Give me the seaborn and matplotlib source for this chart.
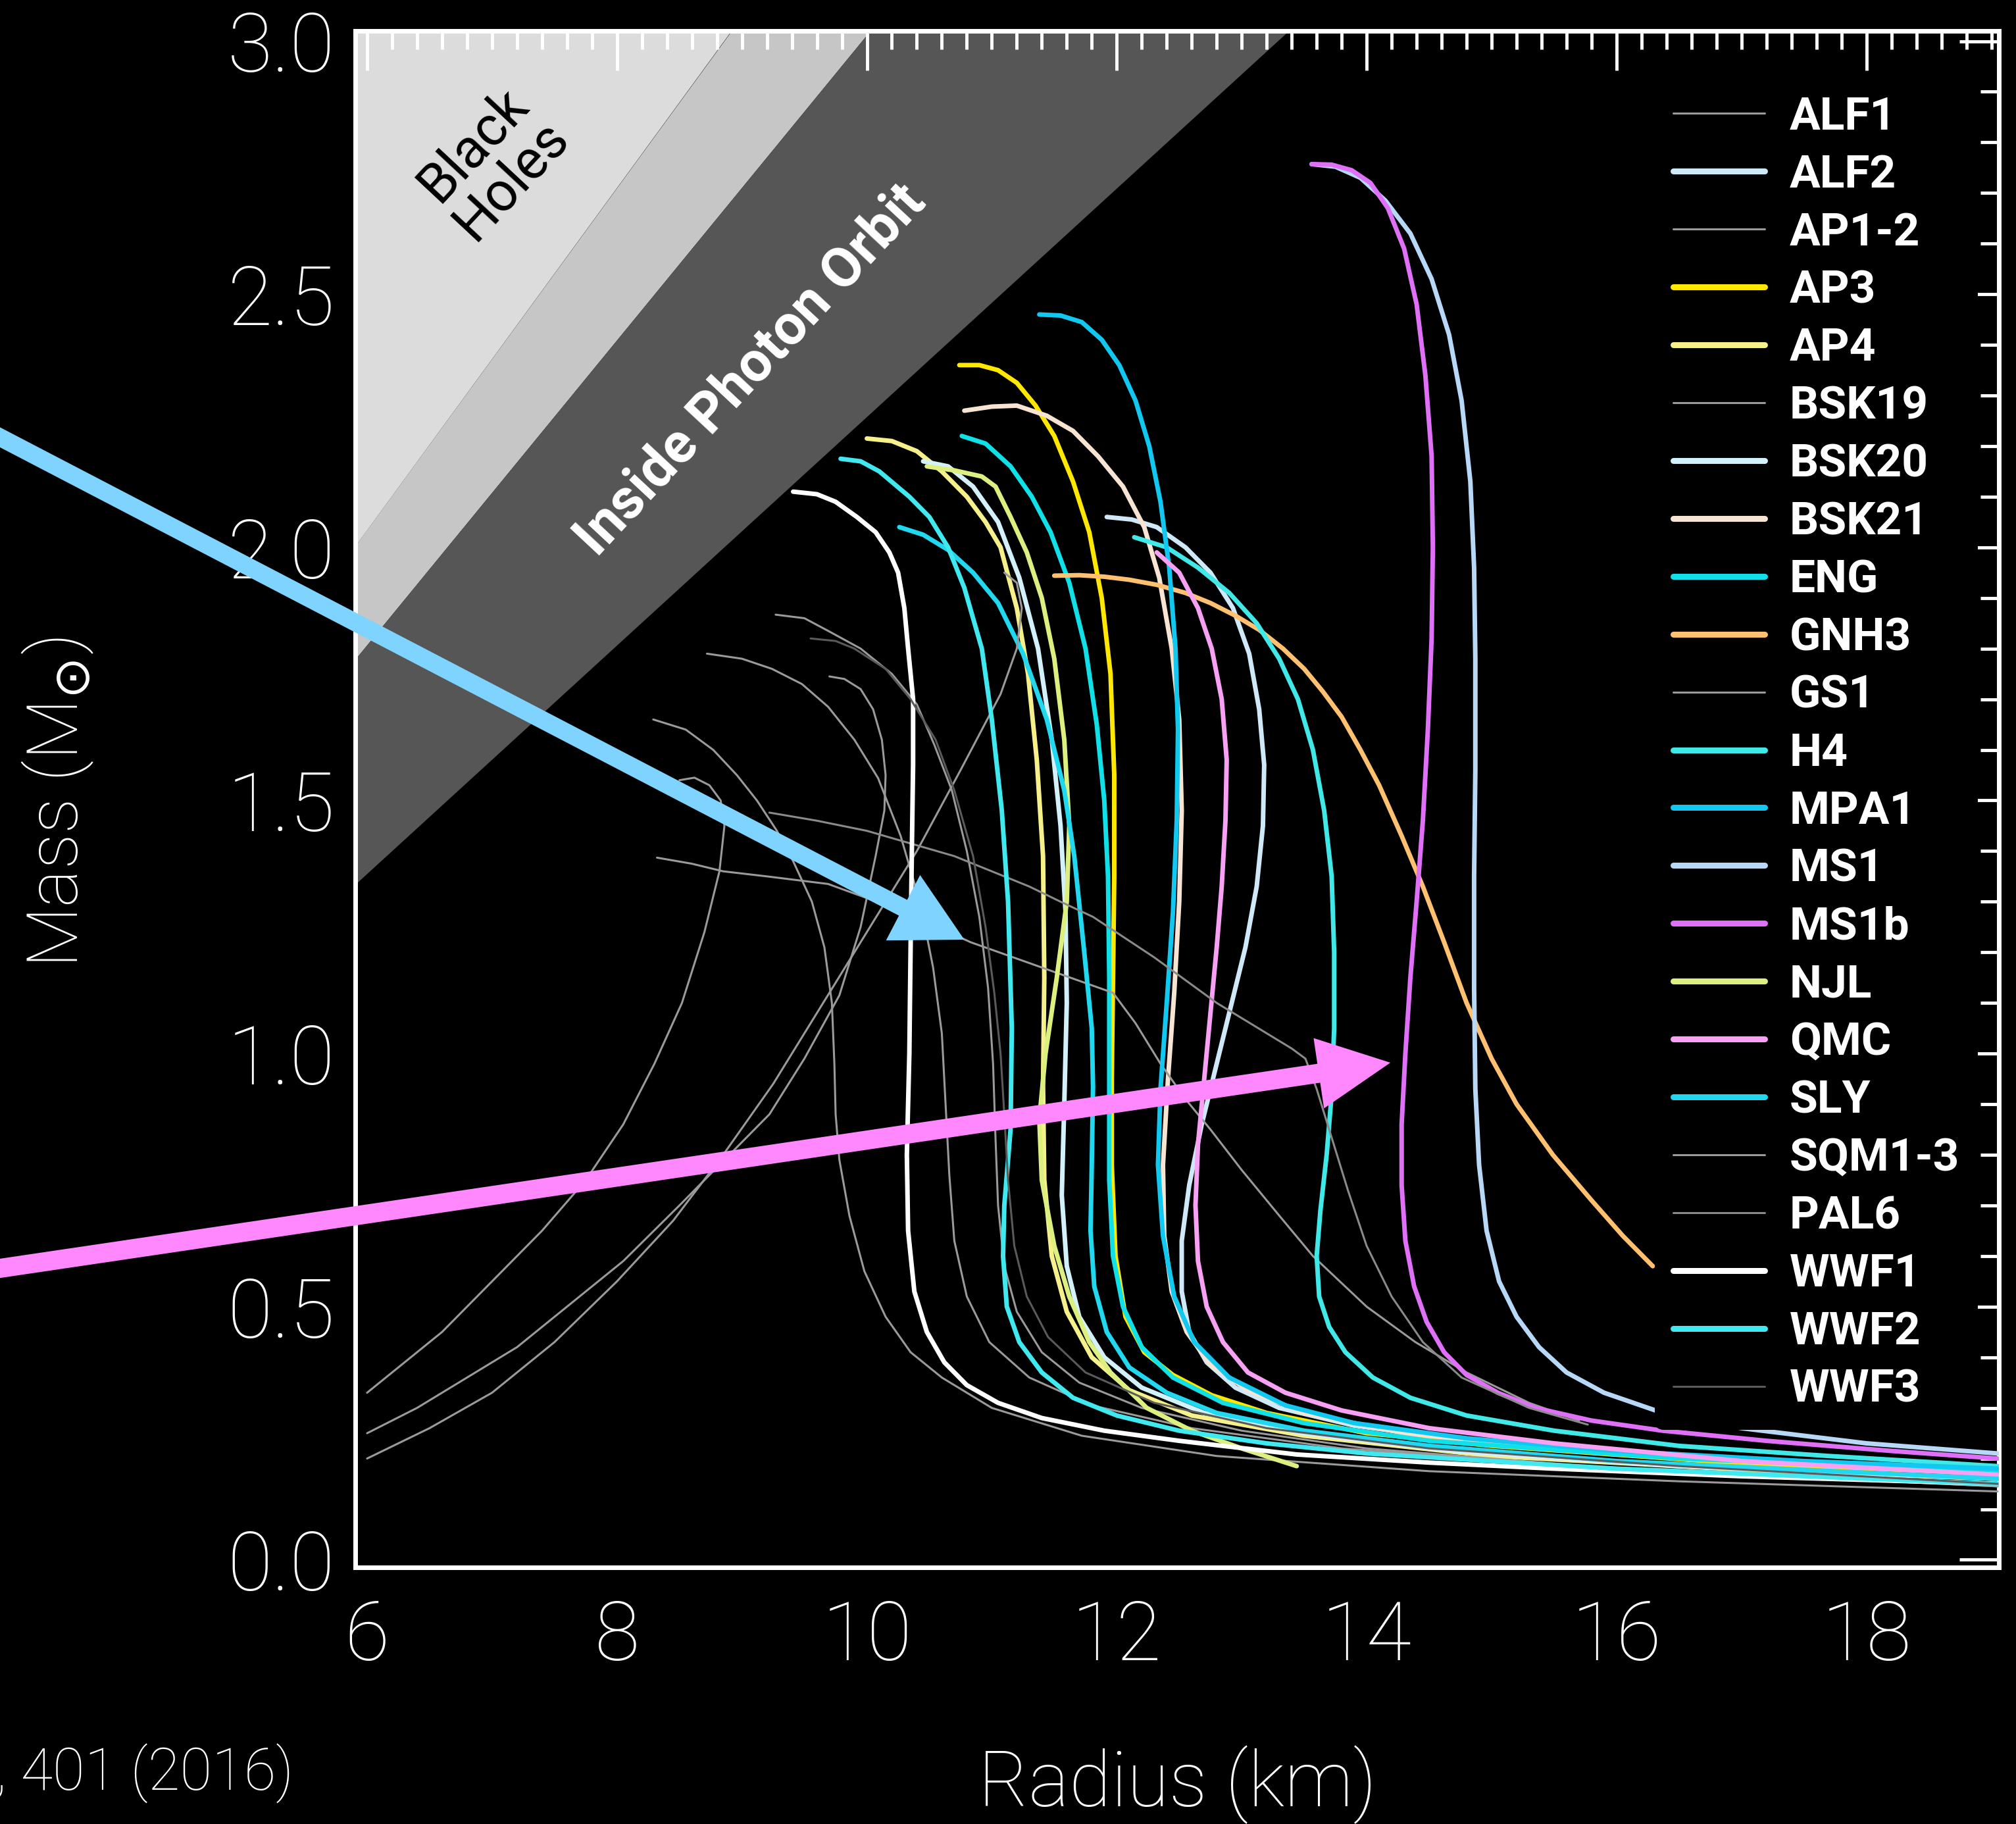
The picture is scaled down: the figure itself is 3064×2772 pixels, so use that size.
import numpy as np
import pandas as pd
import matplotlib.pyplot as plt
import seaborn as sns
from matplotlib.ticker import MultipleLocator, FormatStrFormatter

sns.set_style("dark")
plt.rcParams['font.family'] = ['Roboto', 'DejaVu Sans']

# mass-radius curves (R in km, M in solar masses)
alf1_r = [8.29, 8.55, 8.77, 8.96, 9.12, 9.28, 9.41, 9.56, 9.66, 9.72, 9.74, 9.75, 9.78, 9.86, 9.98, 10.15, 10.35, 10.6, 11.0, 11.72, 12.8, 14.5, 16.5, 19.05]
alf1_m = [1.66, 1.64, 1.60, 1.55, 1.50, 1.44, 1.38, 1.3, 1.21, 1.1, 0.98, 0.88, 0.79, 0.68, 0.57, 0.48, 0.41, 0.36, 0.3, 0.245, 0.205, 0.175, 0.155, 0.135]
alf2_r = [11.92, 12.12, 12.32, 12.55, 12.75, 12.93, 13.06, 13.14, 13.18, 13.17, 13.12, 13.03, 12.92, 12.8, 12.68, 12.58, 12.52, 12.52, 12.58, 12.72, 12.95, 13.3, 13.9, 14.8, 16.0, 17.5, 19.05]
alf2_m = [2.06, 2.055, 2.04, 2.0, 1.95, 1.88, 1.79, 1.68, 1.57, 1.45, 1.33, 1.21, 1.1, 0.98, 0.86, 0.74, 0.63, 0.53, 0.45, 0.39, 0.34, 0.3, 0.265, 0.235, 0.21, 0.19, 0.17]
ap12_r = [8.72, 9.0, 9.24, 9.48, 9.69, 9.9, 10.09, 10.27, 10.43, 10.53, 10.6, 10.63, 10.66, 10.7, 10.8, 10.98, 11.3, 11.8, 12.6, 13.8, 16.0, 19.05]
ap12_m = [1.79, 1.78, 1.76, 1.73, 1.685, 1.62, 1.544, 1.43, 1.295, 1.17, 1.04, 0.9, 0.76, 0.63, 0.52, 0.43, 0.36, 0.305, 0.26, 0.22, 0.18, 0.145]
ap3_r = [10.74, 10.9, 11.05, 11.2, 11.35, 11.5, 11.65, 11.78, 11.88, 11.95, 11.98, 11.98, 11.97, 11.96, 11.96, 11.99, 12.07, 12.22, 12.45, 12.76, 13.2, 14.0, 15.0, 17.0, 19.05]
ap3_m = [2.36, 2.36, 2.35, 2.325, 2.28, 2.22, 2.13, 2.03, 1.9, 1.75, 1.55, 1.35, 1.15, 0.95, 0.78, 0.6, 0.48, 0.41, 0.365, 0.325, 0.29, 0.25, 0.225, 0.19, 0.17]
ap4_r = [10.0, 10.2, 10.4, 10.6, 10.8, 10.95, 11.07, 11.2, 11.29, 11.36, 11.41, 11.42, 11.41, 11.42, 11.48, 11.6, 11.8, 12.1, 12.6, 13.5, 15.0, 17.0, 19.05]
ap4_m = [2.215, 2.21, 2.19, 2.15, 2.1, 2.05, 2.0, 1.88, 1.75, 1.58, 1.39, 1.15, 0.935, 0.75, 0.6, 0.49, 0.4, 0.335, 0.285, 0.245, 0.205, 0.178, 0.16]
bsk19_r = [9.27, 9.5, 9.69, 9.95, 10.2, 10.4, 10.54, 10.68, 10.8, 10.9, 10.97, 11.01, 11.03, 11.05, 11.1, 11.2, 11.4, 11.7, 12.2, 13.0, 14.0, 16.0, 19.05]
bsk19_m = [1.867, 1.86, 1.835, 1.8, 1.75, 1.69, 1.61, 1.52, 1.4, 1.27, 1.13, 0.98, 0.83, 0.7, 0.58, 0.49, 0.41, 0.35, 0.3, 0.255, 0.22, 0.18, 0.145]
bsk20_r = [10.45, 10.65, 10.85, 11.05, 11.22, 11.37, 11.48, 11.55, 11.59, 11.6, 11.58, 11.56, 11.6, 11.7, 11.9, 12.2, 12.7, 13.5, 14.7, 16.5, 19.05]
bsk20_m = [2.17, 2.16, 2.12, 2.05, 1.94, 1.8, 1.62, 1.45, 1.28, 1.1, 0.9, 0.72, 0.58, 0.48, 0.4, 0.34, 0.29, 0.25, 0.215, 0.185, 0.16]
bsk21_r = [10.78, 11.0, 11.2, 11.44, 11.65, 11.85, 12.05, 12.22, 12.34, 12.44, 12.5, 12.52, 12.5, 12.46, 12.41, 12.37, 12.38, 12.44, 12.56, 12.75, 13.05, 13.5, 14.3, 15.5, 17.0, 19.05]
bsk21_m = [2.27, 2.278, 2.28, 2.26, 2.23, 2.18, 2.12, 2.04, 1.94, 1.8, 1.66, 1.48, 1.3, 1.12, 0.95, 0.78, 0.64, 0.53, 0.45, 0.385, 0.335, 0.29, 0.25, 0.22, 0.195, 0.175]
eng_r = [10.76, 10.95, 11.15, 11.32, 11.47, 11.62, 11.75, 11.84, 11.9, 11.93, 11.94, 11.94, 11.94, 11.97, 12.05, 12.2, 12.45, 12.85, 13.5, 14.5, 16.5, 19.05]
eng_m = [2.22, 2.205, 2.16, 2.1, 2.03, 1.93, 1.8, 1.65, 1.5, 1.35, 1.15, 0.935, 0.75, 0.6, 0.5, 0.42, 0.36, 0.31, 0.27, 0.235, 0.2, 0.175]
gnh3_r = [11.5, 11.7, 11.9, 12.1, 12.32, 12.55, 12.75, 12.95, 13.14, 13.33, 13.5, 13.65, 13.8, 13.95, 14.1, 14.28, 14.45, 14.62, 14.8, 15.0, 15.2, 15.49, 15.8, 16.05, 16.29]
gnh3_m = [1.944, 1.945, 1.942, 1.936, 1.926, 1.91, 1.89, 1.865, 1.837, 1.8, 1.76, 1.715, 1.665, 1.6, 1.53, 1.43, 1.33, 1.22, 1.1, 0.99, 0.9, 0.8, 0.71, 0.64, 0.58]
gs1_r = [8.32, 8.6, 8.85, 9.2, 9.69, 10.3, 10.83, 11.4, 11.97, 12.15, 12.35, 12.55, 12.75, 13.0, 13.3, 13.57, 14.0, 14.39, 14.8, 15.3, 15.7]
gs1_m = [1.387, 1.375, 1.36, 1.35, 1.335, 1.28, 1.22, 1.17, 1.12, 1.06, 0.98, 0.91, 0.85, 0.77, 0.68, 0.6, 0.5, 0.43, 0.37, 0.31, 0.275]
h4_r = [12.14, 12.4, 12.65, 12.9, 13.12, 13.3, 13.45, 13.57, 13.66, 13.72, 13.74, 13.74, 13.72, 13.68, 13.63, 13.6, 13.62, 13.7, 13.83, 14.05, 14.35, 14.8, 15.5, 16.5, 17.7, 19.05]
h4_m = [2.02, 2.0, 1.96, 1.91, 1.85, 1.78, 1.7, 1.6, 1.48, 1.35, 1.2, 1.05, 0.92, 0.8, 0.69, 0.6, 0.52, 0.46, 0.41, 0.36, 0.32, 0.285, 0.255, 0.225, 0.205, 0.185]
mpa1_r = [11.38, 11.55, 11.72, 11.88, 12.02, 12.15, 12.26, 12.35, 12.42, 12.47, 12.49, 12.48, 12.45, 12.4, 12.35, 12.33, 12.37, 12.46, 12.62, 12.9, 13.35, 13.9, 14.8, 16.0, 17.5, 19.05]
mpa1_m = [2.46, 2.458, 2.445, 2.41, 2.36, 2.29, 2.2, 2.09, 1.96, 1.8, 1.64, 1.46, 1.28, 1.1, 0.93, 0.78, 0.64, 0.52, 0.43, 0.36, 0.305, 0.27, 0.24, 0.215, 0.195, 0.18]
ms1_r = [13.56, 13.75, 13.95, 14.15, 14.35, 14.52, 14.66, 14.76, 14.83, 14.86, 14.87, 14.87, 14.86, 14.86, 14.87, 14.9, 14.96, 15.06, 15.2, 15.38, 15.6, 15.9, 16.37, 17.0, 18.0, 19.05]
ms1_m = [2.757, 2.752, 2.73, 2.685, 2.62, 2.53, 2.42, 2.29, 2.13, 1.96, 1.78, 1.56, 1.35, 1.13, 0.93, 0.78, 0.65, 0.55, 0.48, 0.42, 0.37, 0.33, 0.29, 0.26, 0.23, 0.21]
ms1b_r = [13.56, 13.72, 13.88, 14.03, 14.17, 14.3, 14.4, 14.47, 14.52, 14.53, 14.52, 14.49, 14.45, 14.4, 14.35, 14.31, 14.28, 14.28, 14.31, 14.38, 14.48, 14.62, 14.8, 15.05, 15.35, 15.8, 16.37, 17.2, 18.2, 19.05]
ms1b_m = [2.757, 2.756, 2.745, 2.72, 2.67, 2.59, 2.48, 2.34, 2.18, 2.0, 1.82, 1.64, 1.46, 1.3, 1.15, 1.0, 0.86, 0.74, 0.63, 0.54, 0.47, 0.41, 0.365, 0.33, 0.3, 0.275, 0.255, 0.235, 0.215, 0.2]
njl_r = [10.48, 10.7, 10.92, 11.03, 11.15, 11.28, 11.4, 11.5, 11.58, 11.62, 11.6, 11.52, 11.43, 11.38, 11.4, 11.5, 11.62, 11.78, 11.95, 12.24, 12.6, 13.0, 13.44]
njl_m = [2.16, 2.152, 2.14, 2.12, 2.06, 1.99, 1.9, 1.78, 1.62, 1.45, 1.3, 1.15, 1.0, 0.87, 0.75, 0.62, 0.52, 0.43, 0.37, 0.3, 0.255, 0.22, 0.185]
qmc_r = [12.32, 12.5, 12.65, 12.76, 12.84, 12.88, 12.87, 12.84, 12.8, 12.75, 12.7, 12.65, 12.63, 12.65, 12.72, 12.85, 13.05, 13.35, 13.8, 14.5, 15.5, 17.0, 19.05]
qmc_m = [1.99, 1.95, 1.88, 1.8, 1.7, 1.58, 1.46, 1.33, 1.21, 1.08, 0.95, 0.82, 0.7, 0.59, 0.5, 0.43, 0.37, 0.33, 0.295, 0.26, 0.23, 0.195, 0.168]
sly_r = [10.26, 10.45, 10.65, 10.85, 11.05, 11.25, 11.44, 11.58, 11.66, 11.74, 11.8, 11.81, 11.80, 11.79, 11.82, 11.92, 12.1, 12.4, 12.8, 13.5, 14.5, 16.0, 19.05]
sly_m = [2.04, 2.025, 1.995, 1.95, 1.89, 1.79, 1.66, 1.52, 1.39, 1.2, 1.05, 0.935, 0.78, 0.65, 0.54, 0.45, 0.38, 0.33, 0.29, 0.255, 0.225, 0.195, 0.16]
sqm1_r = [6.0, 6.3, 6.6, 7.0, 7.4, 7.75, 8.05, 8.3, 8.52, 8.7, 8.82, 8.86, 8.83, 8.74, 8.62, 8.5]
sqm1_m = [0.33, 0.39, 0.45, 0.55, 0.65, 0.75, 0.86, 0.98, 1.1, 1.24, 1.36, 1.45, 1.5, 1.53, 1.545, 1.54]
sqm2_r = [6.0, 6.4, 6.8, 7.2, 7.6, 8.05, 8.5, 8.9, 9.22, 9.5, 9.78, 9.95, 10.07, 10.14, 10.15, 10.12, 10.05, 9.95, 9.82, 9.7]
sqm2_m = [0.25, 0.3, 0.36, 0.42, 0.5, 0.59, 0.7, 0.8, 0.88, 0.99, 1.115, 1.25, 1.39, 1.48, 1.55, 1.62, 1.68, 1.72, 1.74, 1.745]
sqm3_r = [6.0, 6.5, 7.0, 7.5, 8.0, 8.45, 8.85, 9.25, 9.6, 10.0, 10.4, 10.75, 11.07, 11.2, 11.24, 11.2, 11.1]
sqm3_m = [0.2, 0.26, 0.33, 0.43, 0.55, 0.67, 0.8, 0.94, 1.08, 1.24, 1.4, 1.56, 1.71, 1.8, 1.88, 1.93, 1.95]
pal6_r = [9.22, 9.6, 10.0, 10.35, 10.7, 11.0, 11.3, 11.55, 11.81, 12.3, 12.8, 13.2, 13.4, 13.51, 13.6, 13.7, 13.85, 14.0, 14.2, 14.45, 14.76, 15.3, 15.77]
pal6_m = [1.476, 1.46, 1.44, 1.415, 1.39, 1.36, 1.33, 1.3, 1.27, 1.19, 1.10, 1.04, 1.01, 0.99, 0.93, 0.85, 0.73, 0.62, 0.52, 0.43, 0.36, 0.3, 0.267]
wwf1_r = [9.41, 9.6, 9.75, 9.92, 10.07, 10.18, 10.25, 10.3, 10.33, 10.37, 10.37, 10.36, 10.35, 10.34, 10.32, 10.33, 10.38, 10.48, 10.62, 10.8, 11.05, 11.4, 11.9, 12.5, 13.44, 14.5, 15.5, 17.0, 19.05]
wwf1_m = [2.11, 2.105, 2.09, 2.06, 2.03, 1.99, 1.95, 1.88, 1.8, 1.7, 1.57, 1.4, 1.21, 1.0, 0.8, 0.65, 0.53, 0.45, 0.39, 0.345, 0.31, 0.28, 0.255, 0.235, 0.208, 0.192, 0.18, 0.165, 0.15]
wwf2_r = [9.79, 9.95, 10.1, 10.34, 10.5, 10.65, 10.78, 10.92, 11.0, 11.08, 11.13, 11.16, 11.15, 11.1, 11.09, 11.12, 11.22, 11.4, 11.65, 12.0, 12.5, 13.2, 14.0, 16.0, 19.05]
wwf2_m = [2.175, 2.17, 2.15, 2.10, 2.06, 2.0, 1.92, 1.80, 1.66, 1.48, 1.30, 1.05, 0.85, 0.7, 0.6, 0.5, 0.43, 0.37, 0.32, 0.285, 0.255, 0.23, 0.21, 0.18, 0.15]
wwf3_r = [9.55, 9.75, 9.9, 10.15, 10.35, 10.55, 10.7, 10.85, 10.95, 11.02, 11.07, 11.1, 11.13, 11.18, 11.28, 11.45, 11.75, 12.3, 13.2, 14.5, 16.5, 19.05]
wwf3_m = [1.82, 1.815, 1.80, 1.76, 1.70, 1.62, 1.52, 1.39, 1.25, 1.12, 1.0, 0.88, 0.75, 0.62, 0.52, 0.44, 0.37, 0.31, 0.26, 0.22, 0.185, 0.15]

# shaded exclusion zones, corner points (R, M)
bh_zone = [(5.9, 2.0), (5.9, 3.02), (8.92, 3.02)]
buch_zone = [(5.9, 1.776), (5.9, 2.0), (8.92, 3.02), (10.03, 3.02)]
photon_zone = [(5.9, 1.332), (5.9, 1.776), (10.03, 3.02), (13.38, 3.02)]

gray = '#9a9a9a'
thin, thick = 2.2, 5.0
curves = [
    ('ALF1', alf1_r, alf1_m, gray, thin),
    ('ALF2', alf2_r, alf2_m, '#cfe9f9', thick),
    ('AP1-2', ap12_r, ap12_m, gray, thin),
    ('AP3', ap3_r, ap3_m, '#ffe800', thick),
    ('AP4', ap4_r, ap4_m, '#f6f08a', thick),
    ('BSK19', bsk19_r, bsk19_m, gray, thin),
    ('BSK20', bsk20_r, bsk20_m, '#d3f1fb', thick),
    ('BSK21', bsk21_r, bsk21_m, '#f7e4d2', thick),
    ('ENG', eng_r, eng_m, '#10e0e8', thick),
    ('GNH3', gnh3_r, gnh3_m, '#ffc070', thick),
    ('GS1', gs1_r, gs1_m, gray, thin),
    ('H4', h4_r, h4_m, '#40e8e8', thick),
    ('MPA1', mpa1_r, mpa1_m, '#10c8f0', thick),
    ('MS1', ms1_r, ms1_m, '#b8d8f8', thick),
    ('MS1b', ms1b_r, ms1b_m, '#e070f8', thick),
    ('NJL', njl_r, njl_m, '#dcf080', thick),
    ('QMC', qmc_r, qmc_m, '#f8a0f4', thick),
    ('SLY', sly_r, sly_m, '#20d8f0', thick),
    ('SQM1-3', sqm1_r, sqm1_m, gray, thin),
    ('_sqm2', sqm2_r, sqm2_m, gray, thin),
    ('_sqm3', sqm3_r, sqm3_m, gray, thin),
    ('PAL6', pal6_r, pal6_m, '#8a8a8a', thin),
    ('WWF1', wwf1_r, wwf1_m, '#ffffff', thick),
    ('WWF2', wwf2_r, wwf2_m, '#40e8f0', thick),
    ('WWF3', wwf3_r, wwf3_m, '#5a5a5a', thin),
]

fig = plt.figure(figsize=(30.64, 27.72), dpi=100, facecolor='black')
ax = fig.add_axes([0.1762, 0.1407, 0.8153, 0.8423])
ax.set_facecolor('black')

# shaded zones
for zone, col in [(bh_zone, '#dcdcdc'), (buch_zone, '#c6c6c6'), (photon_zone, '#565656')]:
    zr, zm = zip(*zone)
    ax.fill(zr, zm, color=col, lw=0, zorder=0)

for name, r, m, col, lw in curves:
    df = pd.DataFrame({'R': r, 'M': m})
    lab = name if not name.startswith('_') else '_nolegend_'
    sns.lineplot(data=df, x='R', y='M', sort=False, estimator=None,
                 color=col, lw=lw, ax=ax, label=lab, zorder=3)

ax.text(7.0, 2.76, 'Black\nHoles', rotation=47, ha='center', va='center',
        fontsize=60, color='black', linespacing=1.0, zorder=4)
ax.text(9.07, 2.35, 'Inside Photon Orbit', rotation=47, ha='center', va='center',
        fontsize=61, color='white', fontweight='bold', zorder=4)

# arrows pointing at two curves
ax.annotate('', xy=(10.78, 1.225), xycoords='data', xytext=(-0.01, 0.766),
            textcoords='figure fraction', annotation_clip=False,
            arrowprops=dict(arrowstyle='simple,head_length=1.05,head_width=1.12,tail_width=0.27',
                            mutation_scale=72, color='#7fd4ff', lw=0, shrinkA=0, shrinkB=0),
            zorder=6)
ax.annotate('', xy=(14.19, 0.982), xycoords='data', xytext=(-0.01, 0.303),
            textcoords='figure fraction', annotation_clip=False,
            arrowprops=dict(arrowstyle='simple,head_length=1.1,head_width=1.08,tail_width=0.29',
                            mutation_scale=72, color='#ff88ff', lw=0, shrinkA=0, shrinkB=0),
            zorder=6)

ax.set_xlim(5.905, 19.06)
ax.set_ylim(-0.015, 3.02)
ax.xaxis.set_major_locator(MultipleLocator(2))
ax.xaxis.set_minor_locator(MultipleLocator(0.2))
ax.yaxis.set_major_locator(MultipleLocator(0.5))
ax.yaxis.set_minor_locator(MultipleLocator(0.1))
ax.yaxis.set_major_formatter(FormatStrFormatter('%.1f'))
ax.tick_params(which='both', direction='in', top=True, right=True,
               color='white', labelcolor='white', width=3.5)
ax.tick_params(which='major', length=43, labelsize=90)
ax.tick_params(axis='x', which='major', pad=34)
ax.tick_params(axis='y', which='major', pad=22)
ax.tick_params(which='minor', length=20)
for lbl in ax.get_xticklabels() + ax.get_yticklabels():
    lbl.set_fontweight('light')
for sp in ax.spines.values():
    sp.set_color('white')
    sp.set_linewidth(5)
    sp.set_visible(True)
ax.grid(False)
ax.set_xlabel('')
ax.set_ylabel('')

fig.text(1790 / 3064, 1 - 2712 / 2772, 'Radius (km)', ha='center', va='center',
         fontsize=84, color='white', fontweight='light')
fig.text(88 / 3064, 1 - 1220 / 2772, 'Mass (M$_{\\odot}$)', rotation=90, ha='center',
         va='center', fontsize=78, color='white', fontweight='light')
fig.text(446 / 3064, 1 - 2690 / 2772, 'Özel & Freire, ARA&A 54, 401 (2016)', ha='right',
         va='center', fontsize=64, color='white', fontweight='light',
         family=['Liberation Sans Narrow', 'Roboto', 'DejaVu Sans'])

leg = ax.legend(loc='upper left', bbox_to_anchor=(2515 / 3064, 1 - 118 / 2772),
                bbox_transform=fig.transFigure, frameon=True, facecolor='black',
                edgecolor='none', framealpha=1, fontsize=50, handlelength=2.0,
                handletextpad=0.55, labelspacing=0.33, borderpad=0.4, borderaxespad=0)
leg.set_zorder(5)
for t in leg.get_texts():
    t.set_color('white')
    t.set_fontweight('bold')
for h in leg.get_lines():
    if h.get_linewidth() > 3:
        h.set_linewidth(6.5)

fig.savefig('out.png', dpi=100, facecolor='black')
